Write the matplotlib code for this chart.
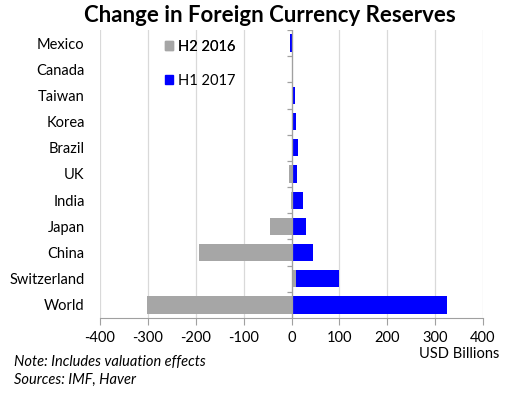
import matplotlib
matplotlib.use('Agg')
import matplotlib.pyplot as plt
from matplotlib.patches import Patch
import numpy as np

plt.rcParams['font.family'] = ['Lato', 'DejaVu Sans']

# Data (USD billions)
countries = ['Mexico', 'Canada', 'Taiwan', 'Korea', 'Brazil', 'UK',
             'India', 'Japan', 'China', 'Switzerland', 'World']
h2_2016 = [0, 0, 0, 0, 0, -5, -2, -44, -193, 10, -301]
h1_2017 = [-4, 0, 8, 10, 13, 11, 25, 30, 45, 100, 325]
xticks = [-400, -300, -200, -100, 0, 100, 200, 300, 400]

gray = '#a6a6a6'
blue = '#0000ff'
axis_col = '#a0a0a0'

fig = plt.figure(figsize=(5.05, 3.94), dpi=100)
ax = fig.add_axes([100 / 505, 1 - 318 / 394, 383 / 505, 288 / 394])

y = np.arange(len(countries))
ax.barh(y, h1_2017, height=0.66, color=blue, zorder=3)
ax.barh(y, h2_2016, height=0.66, color=gray, zorder=4)

ax.set_xlim(-400, 400)
ax.set_ylim(len(countries) - 0.5, -0.5)
ax.set_xticks(xticks)
ax.set_xticklabels([str(v) for v in xticks], fontsize=10.5)
ax.set_yticks(y)
ax.set_yticklabels(countries, fontsize=10.5)
ax.tick_params(axis='y', length=0, pad=11)
ax.tick_params(axis='x', length=5, color=axis_col, pad=4)

for s in ['top', 'right', 'left']:
    ax.spines[s].set_visible(False)
ax.spines['bottom'].set_color(axis_col)

ax.grid(axis='x', color='#d9d9d9', linewidth=0.9, zorder=0)
ax.set_axisbelow(True)

# zero axis with category boundary ticks
ax.axvline(0, color=axis_col, linewidth=0.9, zorder=5)
bounds = np.arange(len(countries) + 1) - 0.5
ax.hlines(bounds[:-1], -9, 0, color=axis_col, linewidth=0.9, zorder=5)

fig.text(270 / 505, 1 - 16 / 394, 'Change in Foreign Currency Reserves', ha='center',
         va='center', fontsize=16, fontweight='bold')
fig.text(499 / 505, 1 - 354 / 394, 'USD Billions', ha='right', va='center', fontsize=10.5)
fig.text(14 / 505, 1 - 362 / 394, 'Note: Includes valuation effects', ha='left',
         va='center', fontsize=10.5, style='italic')
fig.text(14 / 505, 1 - 380 / 394, 'Sources: IMF, Haver', ha='left',
         va='center', fontsize=10.5, style='italic')

leg_kw = dict(loc='center left', frameon=False, fontsize=10.5, handlelength=0.55,
              handleheight=0.55, handletextpad=0.35, borderaxespad=0, borderpad=0)
leg1 = fig.legend(handles=[Patch(color=gray, label='H2 2016')],
                  bbox_to_anchor=(165 / 505, 1 - 47 / 394), **leg_kw)
fig.legend(handles=[Patch(color=blue, label='H1 2017')],
           bbox_to_anchor=(165 / 505, 1 - 81 / 394), **leg_kw)
fig.add_artist(leg1)

fig.savefig('out.png', dpi=100)
